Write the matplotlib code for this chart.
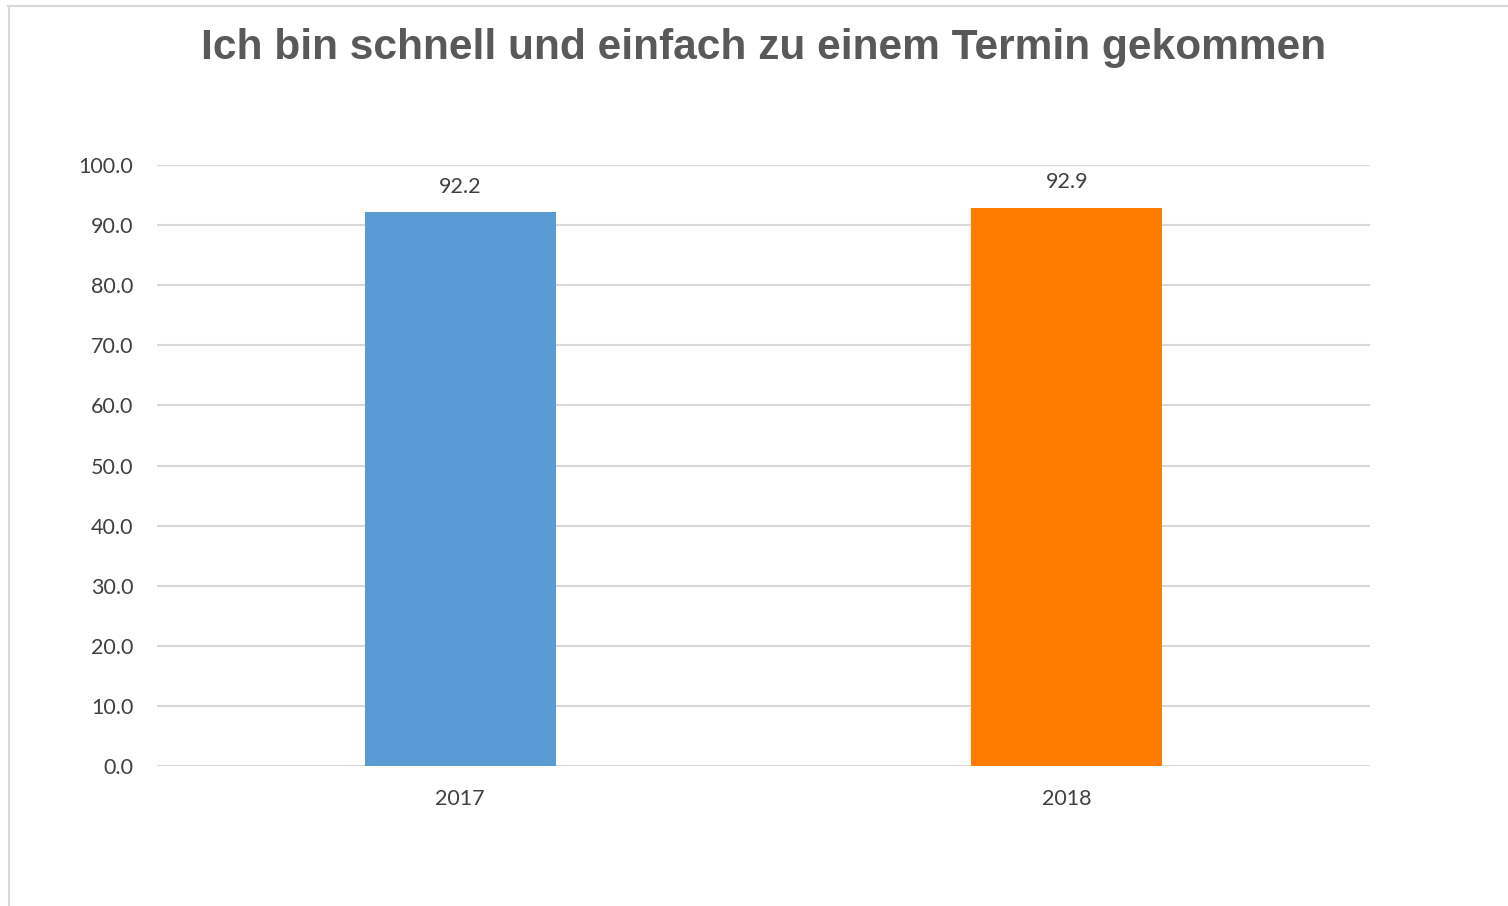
import matplotlib
matplotlib.use("Agg")
import matplotlib.pyplot as plt
from matplotlib.lines import Line2D

# ── Data ──────────────────────────────────────────────────────────────────────
years = ["2017", "2018"]
values = [92.2, 92.9]
bar_colors = ["#5B9BD5", "#FF7C00"]
yticks = [0, 10, 20, 30, 40, 50, 60, 70, 80, 90, 100]

TITLE = "Ich bin schnell und einfach zu einem Termin gekommen"

W, H = 1508, 906
fig = plt.figure(figsize=(W / 100, H / 100), dpi=100)
fig.patch.set_facecolor("white")

# outer chart frame (left + top only visible)
fig.add_artist(Line2D([8.5 / W, 8.5 / W], [0, 1 - 6 / H], color="#d9d9d9", lw=1.5,
                      transform=fig.transFigure))
fig.add_artist(Line2D([8 / W, 1], [1 - 6 / H, 1 - 6 / H], color="#d9d9d9", lw=1.5,
                      transform=fig.transFigure))

ax = fig.add_axes([157 / W, 1 - 766 / H, (1370 - 157) / W, (766 - 165) / H])

x = range(len(years))
bars = ax.bar(x, values, width=0.315, color=bar_colors, zorder=3)

ax.set_xlim(-0.5, 1.5)
ax.set_ylim(0, 100)
ax.set_yticks(yticks)
ax.set_yticklabels([f"{v:.1f}" for v in yticks])
ax.set_xticks(list(x))
ax.set_xticklabels(years)

ax.grid(axis="y", color="#d9d9d9", lw=1.5, zorder=0)
for s in ax.spines.values():
    s.set_visible(False)
ax.tick_params(axis="both", length=0, labelsize=15.5, labelcolor="#404040")
ax.tick_params(axis="y", pad=17)
ax.tick_params(axis="x", pad=16.5)
for lab in ax.get_xticklabels() + ax.get_yticklabels():
    lab.set_family("Lato")

for b, v in zip(bars, values):
    ax.annotate(f"{v:.1f}", (b.get_x() + b.get_width() / 2, v),
                xytext=(0, 11), textcoords="offset points",
                ha="center", va="bottom", fontsize=15.5, color="#404040",
                family="Lato")

fig.text(764 / W, 1 - 48 / H, TITLE, ha="center", va="center",
         fontsize=30.6, fontweight="bold", color="#595959", family="Liberation Sans")

fig.savefig("out.png", dpi=100)
